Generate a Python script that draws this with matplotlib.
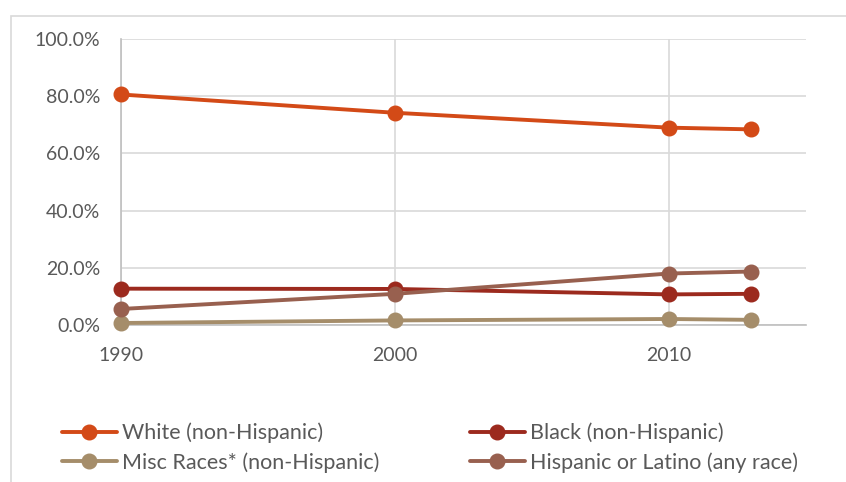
import matplotlib.pyplot as plt
from matplotlib.patches import Rectangle
from matplotlib.ticker import PercentFormatter

plt.rcParams['font.family'] = ['Lato', 'DejaVu Sans']

years = [1990, 2000, 2010, 2013]
white = [80.6, 74.2, 69.0, 68.4]
black = [12.7, 12.6, 10.7, 10.9]
misc = [0.7, 1.6, 2.1, 1.8]
hispanic = [5.6, 10.9, 18.0, 18.7]

labels = ['White (non-Hispanic)', 'Black (non-Hispanic)',
          'Misc Races* (non-Hispanic)', 'Hispanic or Latino (any race)']
colors = ['#D34A17', '#9C2A1E', '#A58D6A', '#98604F']
text_color = '#595959'

fig = plt.figure(figsize=(8.46, 4.82), dpi=100)
fig.patches.append(Rectangle((11 / 846, -0.1), 1.2, 1 - 16 / 482 + 0.1,
                             transform=fig.transFigure, fill=False,
                             edgecolor='#D9D9D9', linewidth=1.2))
ax = fig.add_axes([121 / 846, 1 - 325 / 482, (806 - 121) / 846, (325 - 39) / 482])

lines = []
for vals, lab, col in zip([white, black, misc, hispanic], labels, colors):
    ln, = ax.plot(years, vals, color=col, lw=2.8, marker='o', ms=10.5,
                  label=lab, solid_capstyle='round', clip_on=False, zorder=3)
    lines.append(ln)

ax.set_xlim(1990, 2015)
ax.set_ylim(0, 100)
ax.set_xticks([1990, 2000, 2010])
ax.set_yticks(range(0, 101, 20))
ax.yaxis.set_major_formatter(PercentFormatter(decimals=1))
ax.grid(True, color='#D9D9D9', lw=1.2)
ax.set_axisbelow(True)
for s in ['top', 'right']:
    ax.spines[s].set_visible(False)
for s in ['left', 'bottom']:
    ax.spines[s].set_color('#BFBFBF')
    ax.spines[s].set_linewidth(1.2)
ax.tick_params(length=0, labelsize=14, colors=text_color)
ax.tick_params(axis='y', pad=15)
ax.tick_params(axis='x', pad=16)

order = [0, 2, 1, 3]
fig.legend([lines[i] for i in order], [labels[i] for i in order],
           ncol=2, loc='upper left', bbox_to_anchor=(51 / 846, 1 - 412 / 482),
           frameon=False, fontsize=15.5, labelcolor=text_color,
           handlelength=2.55, handletextpad=0.25, columnspacing=4.2,
           labelspacing=0.42, borderpad=0)

fig.savefig('out.png', dpi=100)
